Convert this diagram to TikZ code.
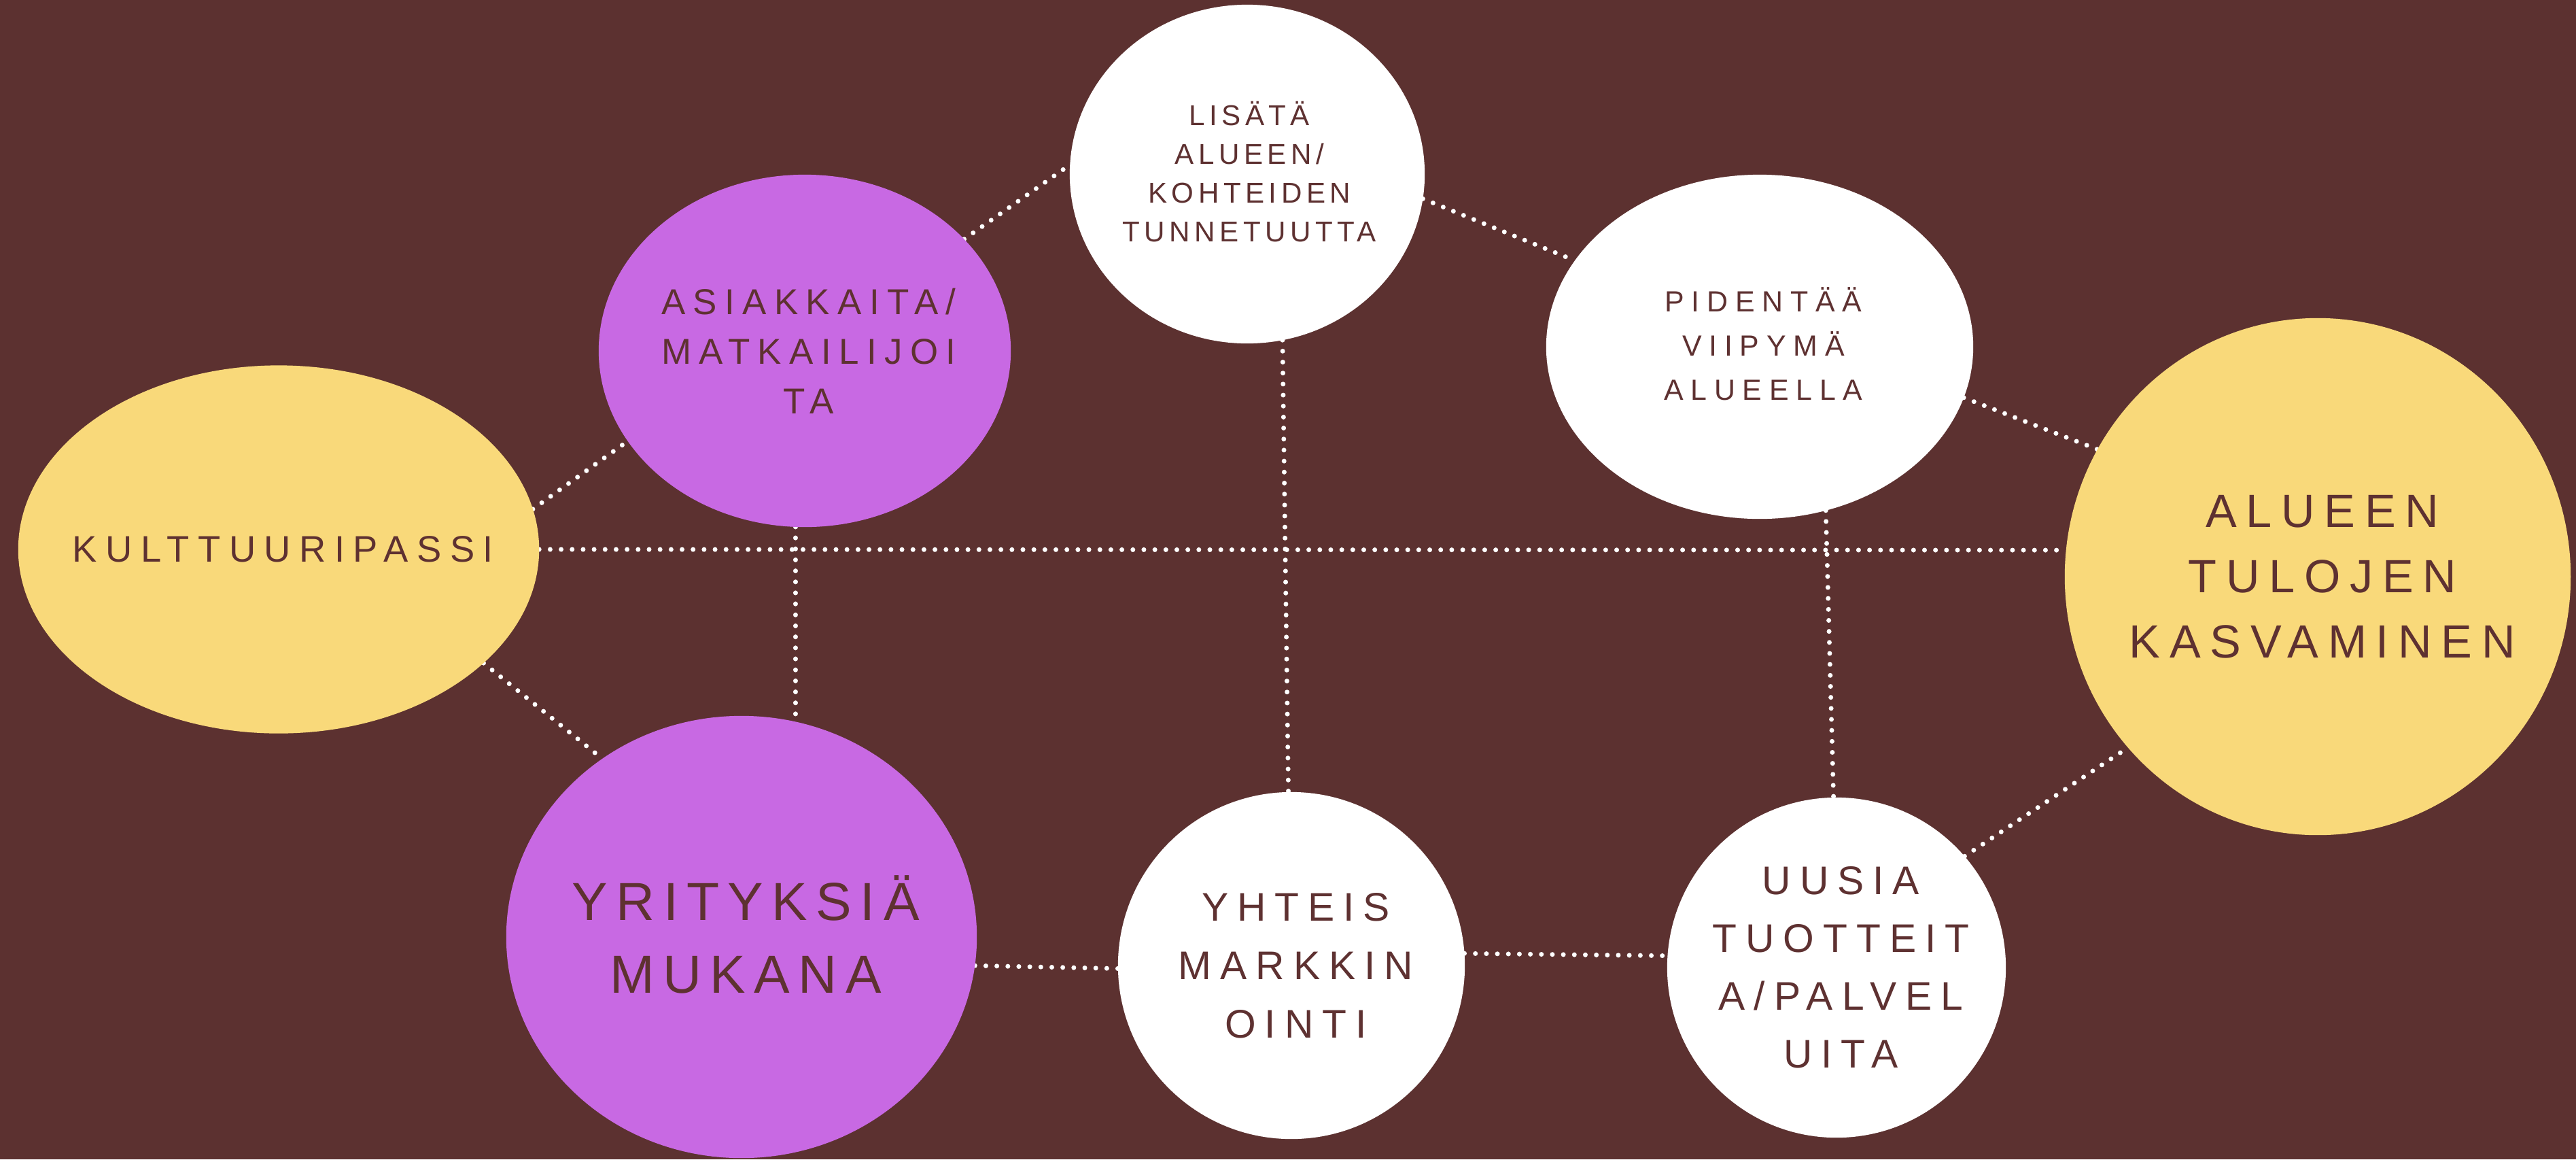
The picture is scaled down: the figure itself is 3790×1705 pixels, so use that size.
\documentclass[tikz,border=0pt]{standalone}
\usepackage{fontspec}
\setmainfont{Liberation Sans}
\usetikzlibrary{shapes.geometric}
\definecolor{bgc}{HTML}{5C3130}
\definecolor{yel}{HTML}{F9D97A}
\definecolor{pur}{HTML}{C869E3}
\definecolor{txc}{HTML}{5E3131}
\pgfdeclarelayer{bglayer}
\pgfdeclarelayer{edgelayer}
\pgfsetlayers{bglayer,edgelayer,main}
\newcommand{\tx}[3]{\addfontfeature{LetterSpace=#3}\fontsize{#1}{#2}\selectfont}
\begin{document}
\begin{tikzpicture}[x=0.01cm, y=-0.01cm,
  bub/.style={ellipse, inner sep=0pt, outer sep=0pt, draw=none},
  txt/.style={align=center, text=txc, inner sep=0pt, outer sep=0pt},
  link/.style={draw=white, line width=2pt, line cap=round, dash pattern=on 0pt off 4.6pt}]

\begin{pgfonlayer}{bglayer}
\fill[bgc] (0,0) rectangle (3790,1705);
\end{pgfonlayer}
\useasboundingbox (0,0) rectangle (3790,1705);

% bubbles
\node[bub, fill=yel, minimum width=7.66cm, minimum height=5.41cm] (kult) at (410,808) {};
\node[bub, fill=pur, minimum width=6.06cm, minimum height=5.18cm] (asiak) at (1184,516) {};
\node[bub, fill=white, minimum width=5.22cm, minimum height=4.98cm] (lisata) at (1835,256) {};
\node[bub, fill=white, minimum width=6.28cm, minimum height=5.06cm] (pidentaa) at (2589,510) {};
\node[bub, fill=yel, minimum width=7.44cm, minimum height=7.60cm] (alueen) at (3410,848) {};
\node[bub, fill=pur, minimum width=6.92cm, minimum height=6.50cm] (yrity) at (1091,1378) {};
\node[bub, fill=white, minimum width=5.10cm, minimum height=5.10cm] (yhteis) at (1900,1420) {};
\node[bub, fill=white, minimum width=4.98cm, minimum height=5.00cm] (uusia) at (2702,1423) {};

% texts
\node[txt, font=\tx{15.45pt}{18pt}{23}, xshift=1.78pt] (kult-t) at (kult) {KULTTUURIPASSI};
\node[txt, font=\tx{15.05pt}{20.8pt}{21.5}, xshift=1.62pt] (asiak-t) at (asiak) {ASIAKKAITA/\\MATKAILIJOI\\TA};
\node[txt, font=\tx{11.98pt}{16.2pt}{15.4}, xshift=0.92pt, yshift=1.1pt] (lisata-t) at (lisata) {LISÄTÄ\\ALUEEN/\\KOHTEIDEN\\TUNNETUUTTA};
\node[txt, font=\tx{12.2pt}{18.5pt}{25}, xshift=1.53pt, yshift=1.1pt] (pidentaa-t) at (pidentaa) {PIDENTÄÄ\\VIIPYMÄ\\ALUEELLA};
\node[txt, font=\tx{19.5pt}{27.3pt}{20}, xshift=1.95pt] (alueen-t) at (alueen) {ALUEEN\\TULOJEN\\KASVAMINEN};
\node[txt, font=\tx{22.4pt}{30.2pt}{15.8}, xshift=1.77pt, yshift=1pt] (yrity-t) at (yrity) {YRITYKSIÄ\\MUKANA};
\node[txt, font=\tx{16.7pt}{24.5pt}{22}, xshift=1.84pt] (yhteis-t) at (yhteis) {YHTEIS\\MARKKIN\\OINTI};
\node[txt, font=\tx{16.7pt}{24.2pt}{22}, xshift=1.84pt] (uusia-t) at (uusia) {UUSIA\\TUOTTEIT\\A/PALVEL\\UITA};

% connectors
\begin{pgfonlayer}{edgelayer}
\draw[link] (kult.9) -- (asiak.207);
\draw[link] (kult.east) -- (alueen.174);
\draw[link] (kult.331) -- (yrity.128);
\draw[link] (asiak.35) -- (lisata.177);
\coordinate (asiak-end) at (asiak.267 |- yrity.north);
\draw[link] (asiak.267) -- (asiak-end);
\draw[link] (lisata.282) -- (yhteis.91);
\draw[link] (lisata.352) -- (pidentaa.155);
\draw[link] (pidentaa.346) -- (alueen.150);
\draw[link] (pidentaa.292) -- (uusia.91);
\draw[link] (yrity.353) -- (yhteis.181);
\draw[link] (yhteis.4) -- (uusia.176);
\draw[link] (uusia.41) -- (alueen.222);
\end{pgfonlayer}
\end{tikzpicture}
\end{document}
